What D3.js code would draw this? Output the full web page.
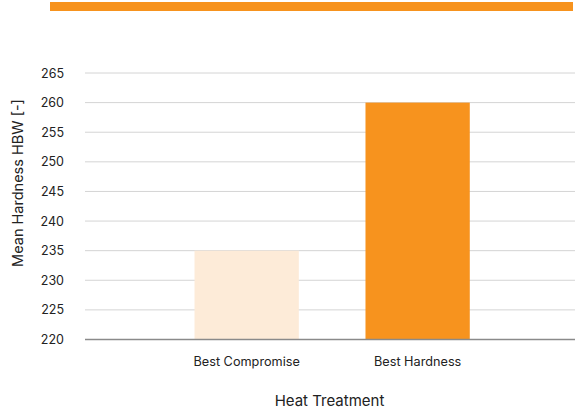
<!DOCTYPE html>
<html>
<head>
<meta charset="utf-8">
<script src="https://cdn.jsdelivr.net/npm/d3@7"></script>
<style>
  html, body { margin: 0; padding: 0; background: #ffffff; }
  svg { display: block; font-family: Inter, "Noto Sans", sans-serif; }
</style>
</head>
<body>
<svg id="chart" width="576" height="412"></svg>
<script>
// Mean hardness per heat treatment
const categories = ["Best Compromise", "Best Hardness"];
const hardness = [235, 260];
const barColors = ["#FDEBD8", "#F7931E"];
const yTicks = [220, 225, 230, 235, 240, 245, 250, 255, 260, 265];

const svg = d3.select("#chart");
const plot = { left: 85, right: 575, top: 73, bottom: 339.5 };

// Accent strip across the top
svg.append("rect")
  .attr("x", 50).attr("y", 2)
  .attr("width", 523).attr("height", 9)
  .attr("fill", "#F7931E");

const x = d3.scaleBand()
  .domain(categories)
  .range([plot.left, plot.right])
  .paddingInner(0.39)
  .paddingOuter(0.628)
  .align(0.51);

const y = d3.scaleLinear()
  .domain([220, 265])
  .range([plot.bottom, plot.top]);

// Horizontal gridlines
svg.append("g")
  .selectAll("line")
  .data(yTicks.filter(t => t !== 220))
  .join("line")
  .attr("x1", plot.left).attr("x2", plot.right)
  .attr("y1", d => y(d)).attr("y2", d => y(d))
  .attr("stroke", "#d4d4d4")
  .attr("stroke-width", 1);

// Bars
svg.append("g")
  .selectAll("rect")
  .data(categories)
  .join("rect")
  .attr("x", d => x(d))
  .attr("y", (d, i) => y(hardness[i]))
  .attr("width", x.bandwidth())
  .attr("height", (d, i) => y(220) - y(hardness[i]))
  .attr("fill", (d, i) => barColors[i]);

// Baseline
svg.append("line")
  .attr("x1", plot.left).attr("x2", plot.right)
  .attr("y1", y(220)).attr("y2", y(220))
  .attr("stroke", "#8a8a8a")
  .attr("stroke-width", 1.5);

// Y axis tick labels
const yAxis = d3.axisLeft(y).tickValues(yTicks).tickSize(0).tickPadding(0);
const gy = svg.append("g")
  .attr("transform", `translate(${64},0)`)
  .call(yAxis);
gy.select(".domain").remove();
gy.selectAll("text")
  .attr("font-family", "Inter, 'Noto Sans', sans-serif")
  .attr("font-size", 12.5)
  .attr("fill", "#222");

// X axis category labels
const xAxis = d3.axisBottom(x).tickSize(0).tickPadding(0);
const gx = svg.append("g")
  .attr("transform", `translate(0,${plot.bottom + 17})`)
  .call(xAxis);
gx.select(".domain").remove();
gx.selectAll("text")
  .attr("font-family", "Inter, 'Noto Sans', sans-serif")
  .attr("font-size", 12.7)
  .attr("fill", "#222");

// Axis titles
svg.append("text")
  .attr("x", 329.5)
  .attr("y", 405.5)
  .attr("text-anchor", "middle")
  .attr("font-size", 15)
  .attr("fill", "#222")
  .text("Heat Treatment");

svg.append("text")
  .attr("transform", `translate(23,183) rotate(-90)`)
  .attr("text-anchor", "middle")
  .attr("font-size", 14.5)
  .attr("fill", "#222")
  .text("Mean Hardness HBW [-]");
</script>
</body>
</html>
